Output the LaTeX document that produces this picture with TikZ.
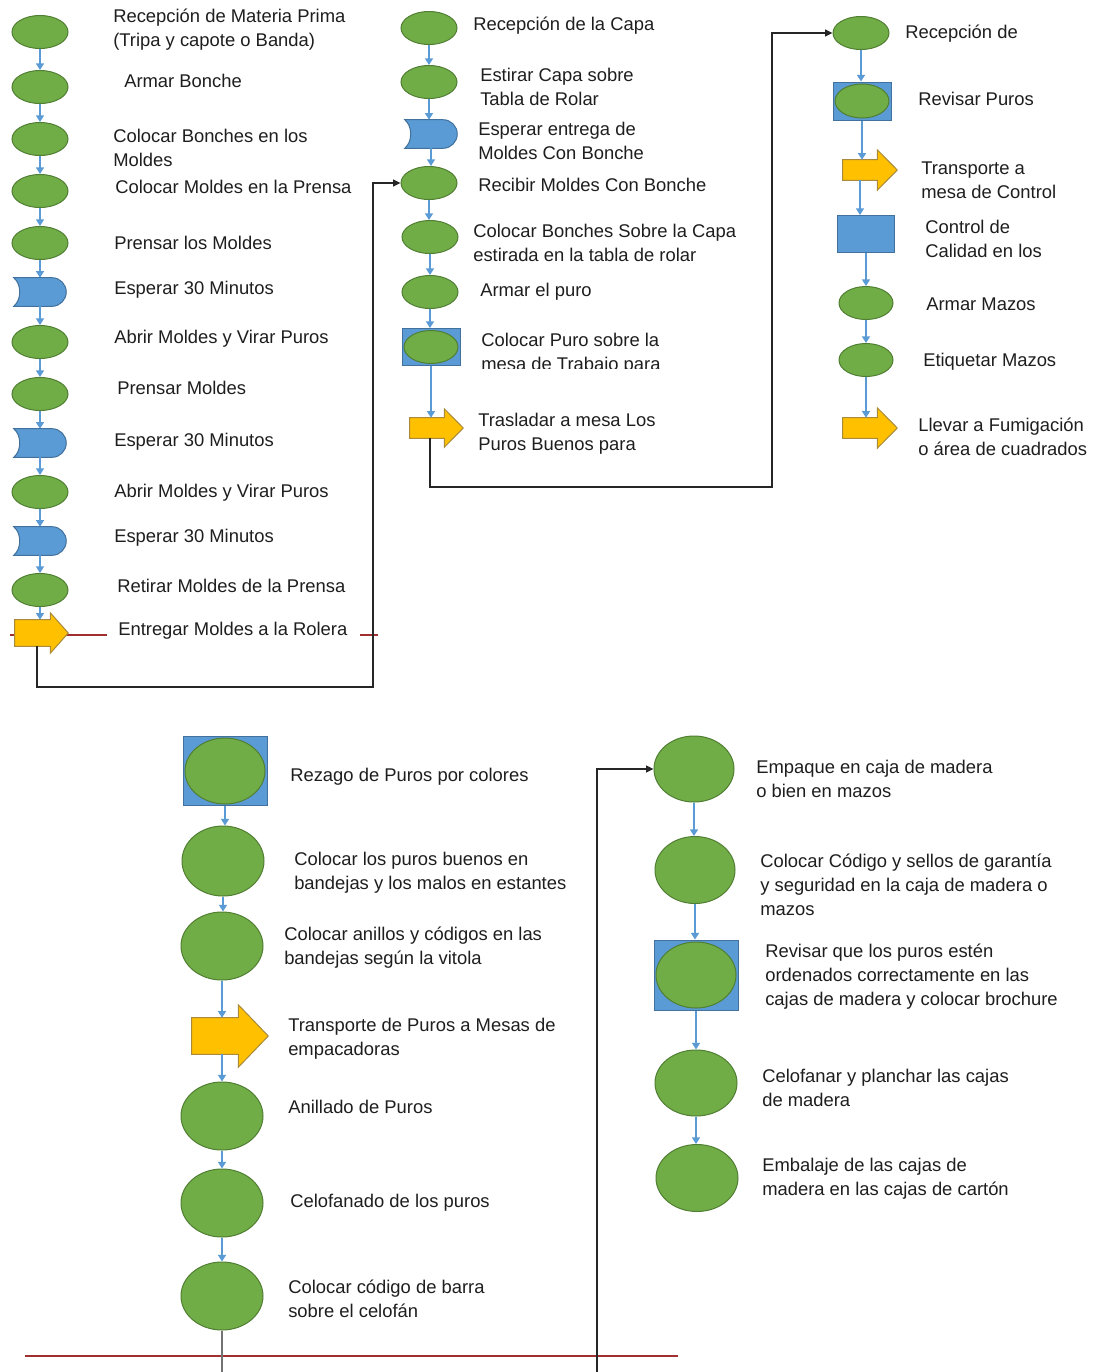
\documentclass[tikz,border=0pt]{standalone}
\usepackage{fontspec}
\setmainfont{Liberation Sans}
\usetikzlibrary{calc,arrows.meta,shapes.geometric}
\definecolor{gfill}{HTML}{70AD47}
\definecolor{gline}{HTML}{507E32}
\definecolor{bfill}{HTML}{5B9BD5}
\definecolor{bline}{HTML}{41719C}
\definecolor{yfill}{HTML}{FFC000}
\definecolor{yline}{HTML}{A88A3A}
\definecolor{conn}{HTML}{5B9BD5}
\definecolor{redl}{HTML}{A03030}
\definecolor{txt}{HTML}{1E1E1E}
\newcommand\dlay[1]{\draw[dst] (#1.north west) .. controls ($(#1.west)+(8,-8)$) and ($(#1.west)+(8,8)$) .. (#1.south west) -- ($(#1.south east)+(-14,0)$) .. controls ($(#1.south east)+(-6.3,0)$) and ($(#1.east)+(0,7.7)$) .. (#1.east) .. controls ($(#1.east)+(0,-7.7)$) and ($(#1.north east)+(-6.3,0)$) .. ($(#1.north east)+(-14,0)$) -- cycle;}
\newcommand\blockarr[3]{\draw[arst] (#1.north west) -- (#1.north east) -- ($(#1.north east)+(0,-#3)$) -- ($(#1.east)+(#2,0)$) -- ($(#1.south east)+(0,#3)$) -- (#1.south east) -- (#1.south west) -- cycle;}
\newcommand\cnv[2]{\draw[cn] (#1.south) -- (#1.south |- #2.north);}
\begin{document}
\begin{tikzpicture}[x=0.75pt,y=-0.75pt,
  sell/.style={ellipse, draw=gline, fill=gfill, line width=0.75pt, inner sep=0, minimum width=42pt, minimum height=24.75pt},
  bell/.style={ellipse, draw=gline, fill=gfill, line width=0.75pt, inner sep=0, minimum width=61.5pt, minimum height=51pt},
  rbox/.style={rectangle, draw=bline, fill=bfill, line width=0.75pt, inner sep=0},
  dbox/.style={rectangle, inner sep=0, minimum width=39pt, minimum height=21pt},
  abox/.style={rectangle, inner sep=0},
  dst/.style={draw=bline, fill=bfill, line width=0.75pt},
  arst/.style={draw=yline, fill=yfill, line width=0.75pt, line join=miter},
  lbl/.style={anchor=west, align=left, inner sep=0, text=txt, font=\fontsize{13.8pt}{18pt}\selectfont},
  cn/.style={draw=conn, line width=1.1pt, -{Triangle[length=5pt,width=6pt]}},
  bk/.style={draw=black!85, line width=1.1pt, -{Triangle[length=5.5pt,width=5pt]}},
  gl/.style={draw=black!55, line width=1.1pt},
  rl/.style={draw=redl, line width=1.3pt}]
\fill[white] (0,0) rectangle (1094,1372);
\useasboundingbox (0,0) rectangle (1094,1372);
% red lines
\draw[rl] (10,635) -- (107,635);
\draw[rl] (360,635) -- (378,635);
\draw[rl] (25,1356) -- (678,1356);
% ---------- column 1
\node[sell] (a1) at (40,32) {};
\node[sell] (a2) at (40,87) {};
\node[sell] (a3) at (40,139) {};
\node[sell] (a4) at (40,191) {};
\node[sell] (a5) at (40,243) {};
\node[dbox] (a6) at (40,292) {}; \dlay{a6}
\node[sell] (a7) at (40,342) {};
\node[sell] (a8) at (40,394) {};
\node[dbox] (a9) at (40,443) {}; \dlay{a9}
\node[sell] (a10) at (40,492) {};
\node[dbox] (a11) at (40,541) {}; \dlay{a11}
\node[sell] (a12) at (40,590) {};
\node[abox, minimum width=26.25pt, minimum height=19.5pt] (a13) at (32.5,633) {}; \blockarr{a13}{18}{7}
\cnv{a1}{a2} \cnv{a2}{a3} \cnv{a3}{a4} \cnv{a4}{a5} \cnv{a5}{a6} \cnv{a6}{a7}
\cnv{a7}{a8} \cnv{a8}{a9} \cnv{a9}{a10} \cnv{a10}{a11} \cnv{a11}{a12} \cnv{a12}{a13}
\node[lbl] (ta1) at (113,30) {Recepción de Materia Prima\\(Tripa y capote o Banda)};
\node[lbl] (ta2) at (124,81) {Armar Bonche};
\node[lbl] (ta3) at (113,148) {Colocar Bonches en los\\Moldes};
\node[lbl] (ta4) at (115,187) {Colocar Moldes en la Prensa};
\node[lbl] (ta5) at (114,243) {Prensar los Moldes};
\node[lbl] (ta6) at (114,290) {Esperar 30 Minutos};
\node[lbl] (ta7) at (114,339) {Abrir Moldes y Virar Puros};
\node[lbl] (ta8) at (117,388) {Prensar Moldes};
\node[lbl] (ta9) at (114,442) {Esperar 30 Minutos};
\node[lbl] (ta10) at (114,493) {Abrir Moldes y Virar Puros};
\node[lbl] (ta11) at (114,538) {Esperar 30 Minutos};
\node[lbl] (ta12) at (117,586) {Retirar Moldes de la Prensa};
\node[lbl] (ta13) at (118,631) {Entregar Moldes a la Rolera};
% ---------- column 2
\node[sell] (b1) at (429,28) {};
\node[sell] (b2) at (429,82) {};
\node[dbox] (b3) at (431,134) {}; \dlay{b3}
\node[sell] (b4) at (429,183) {};
\node[sell] (b5) at (430,237) {};
\node[sell] (b6) at (430,292) {};
\node[rbox, minimum width=43.5pt, minimum height=27.75pt] (b7) at (431,347) {};
\node[sell, minimum width=40.5pt, minimum height=24.75pt] (b7e) at (431,347) {};
\node[abox, minimum width=25.5pt, minimum height=15pt] (b8) at (427,428) {}; \blockarr{b8}{19}{9}
\cnv{b1}{b2} \cnv{b2}{b3} \cnv{b3}{b4} \cnv{b4}{b5} \cnv{b5}{b6} \cnv{b6}{b7} \cnv{b7}{b8}
\node[lbl] (tb1) at (473,26) {Recepción de la Capa};
\node[lbl] (tb2) at (480,87) {Estirar Capa sobre\\Tabla de Rolar};
\node[lbl] (tb3) at (478,141) {Esperar entrega de\\Moldes Con Bonche};
\node[lbl] (tb4) at (478,185) {Recibir Moldes Con Bonche};
\node[lbl] (tb5) at (473,243) {Colocar Bonches Sobre la Capa\\estirada en la tabla de rolar};
\node[lbl] (tb6) at (480,292) {Armar el puro};
\begin{scope}
\clip (470,320) rectangle (700,368);
\node[lbl] (tb7) at (481,354) {Colocar Puro sobre la\\mesa de Trabajo para};
\end{scope}
\node[lbl] (tb8) at (478,434) {Trasladar a mesa Los\\Puros Buenos para};
% ---------- column 3
\node[sell] (c1) at (861,33) {};
\node[rbox, minimum width=43.5pt, minimum height=28.5pt] (c2) at (862,101) {};
\node[sell, minimum width=40.5pt, minimum height=25.5pt] (c2e) at (862,101) {};
\node[abox, minimum width=25.5pt, minimum height=15pt] (c3) at (860,170) {}; \blockarr{c3}{20}{10}
\node[rbox, minimum width=42.75pt, minimum height=27.75pt] (c4) at (866,234) {};
\node[sell, minimum width=40.5pt] (c5) at (866,303) {};
\node[sell, minimum width=40.5pt] (c6) at (866,360) {};
\node[abox, minimum width=25.5pt, minimum height=15pt] (c7) at (860,428) {}; \blockarr{c7}{20}{10}
\cnv{c1}{c2} \cnv{c2}{c3} \cnv{c3}{c4} \cnv{c4}{c5} \cnv{c5}{c6} \cnv{c6}{c7}
\node[lbl] (tc1) at (905,34) {Recepción de};
\node[lbl] (tc2) at (918,99) {Revisar Puros};
\node[lbl] (tc3) at (921,180) {Transporte a\\mesa de Control};
\node[lbl] (tc4) at (925,239) {Control de\\Calidad en los};
\node[lbl] (tc5) at (926,304) {Armar Mazos};
\node[lbl] (tc6) at (923,362) {Etiquetar Mazos};
\node[lbl] (tc7) at (918,437) {Llevar a Fumigación\\o área de cuadrados};
% black links top
\coordinate (j1) at (37,687);
\coordinate (j2) at (373,687);
\draw[bk] (a13.south -| j1) -- (j1) -- (j2) |- (b4.west);
\coordinate (k1) at (430,487);
\coordinate (k2) at (772,487);
\draw[bk] (b8.south -| k1) -- (k1) -- (k2) |- (c1.west);
% ---------- column 4 (bottom left)
\node[rbox, minimum width=63pt, minimum height=51.75pt] (e1) at (225,771) {};
\node[bell, minimum width=60pt, minimum height=49.5pt] (e1e) at (225,771) {};
\node[bell, minimum height=52.5pt] (e2) at (223,861) {};
\node[bell] (e3) at (222,946) {};
\node[abox, minimum width=34.5pt, minimum height=27pt] (e4) at (215,1036) {}; \blockarr{e4}{30}{13}
\node[bell] (e5) at (222,1116) {};
\node[bell] (e6) at (222,1203) {};
\node[bell] (e7) at (222,1296) {};
\cnv{e1}{e2} \cnv{e2}{e3} \cnv{e3}{e4}
\draw[cn] (e4.south -| e5.north) -- (e5.north);
\cnv{e5}{e6} \cnv{e6}{e7}
\coordinate (g1) at (222,1372);
\draw[gl] (e7.south) -- (g1);
\node[lbl] (te1) at (290,777) {Rezago de Puros por colores};
\node[lbl] (te2) at (294,873) {Colocar los puros buenos en\\bandejas y los malos en estantes};
\node[lbl] (te3) at (284,948) {Colocar anillos y códigos en las\\bandejas según la vitola};
\node[lbl] (te4) at (288,1039) {Transporte de Puros a Mesas de\\empacadoras};
\node[lbl] (te5) at (288,1107) {Anillado de Puros};
\node[lbl] (te6) at (290,1203) {Celofanado de los puros};
\node[lbl] (te7) at (288,1299) {Colocar código de barra\\sobre el celofán};
% ---------- column 5 (bottom right)
\node[bell, minimum width=60pt, minimum height=49.5pt] (f1) at (694,769) {};
\node[bell, minimum width=60pt, minimum height=50.25pt] (f2) at (695,870) {};
\node[rbox, minimum width=63pt, minimum height=52.5pt] (f3) at (696,975) {};
\node[bell, minimum width=60pt, minimum height=49.5pt] (f3e) at (696,975) {};
\node[bell, minimum height=49.5pt] (f4) at (696,1083) {};
\node[bell, minimum height=50.25pt] (f5) at (697,1178) {};
\cnv{f1}{f2} \cnv{f2}{f3} \cnv{f3}{f4} \cnv{f4}{f5}
\coordinate (g2) at (597,1372);
\draw[bk] (g2) |- (f1.west);
\node[lbl] (tf1) at (756,779) {Empaque en caja de madera\\o bien en mazos};
\node[lbl] (tf2) at (760,885) {Colocar Código y sellos de garantía\\y seguridad en la caja de madera o\\mazos};
\node[lbl] (tf3) at (765,977) {Revisar que los puros estén\\ordenados correctamente en las\\cajas de madera y colocar brochure};
\node[lbl] (tf4) at (762,1088) {Celofanar y planchar las cajas\\de madera};
\node[lbl] (tf5) at (762,1179) {Embalaje de las cajas de\\madera en las cajas de cartón};
\end{tikzpicture}
\end{document}
